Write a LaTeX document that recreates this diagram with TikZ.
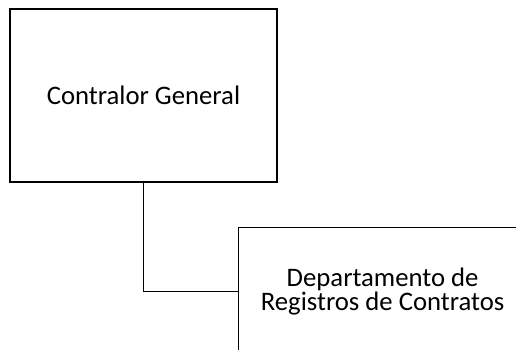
\documentclass[tikz,border=0pt]{standalone}
\usepackage{fontspec}
\setmainfont{Carlito}
\usetikzlibrary{positioning}

\begin{document}
\begin{tikzpicture}[x=1pt, y=1pt, font=\fontsize{26.7}{24.3}\selectfont,
    orgbox/.style={draw, rectangle, line width=1.6pt, fill=white, align=center, inner sep=0pt}]
    % page frame
    \useasboundingbox (0,0) rectangle (516,-350);
    \clip (0,0) rectangle (516,-350);
    % Boxes
    \node[orgbox, minimum width=267pt, minimum height=173pt] (cg) at (143.5,-95.5) {Contralor General};
    \node[orgbox, minimum width=288pt, minimum height=128pt, below right=44pt and -40pt of cg] (drc) {Departamento de\\Registros de Contratos};
    % Connector
    \draw[line width=1.6pt] (cg.south) |- (drc.west);
\end{tikzpicture}
\end{document}
